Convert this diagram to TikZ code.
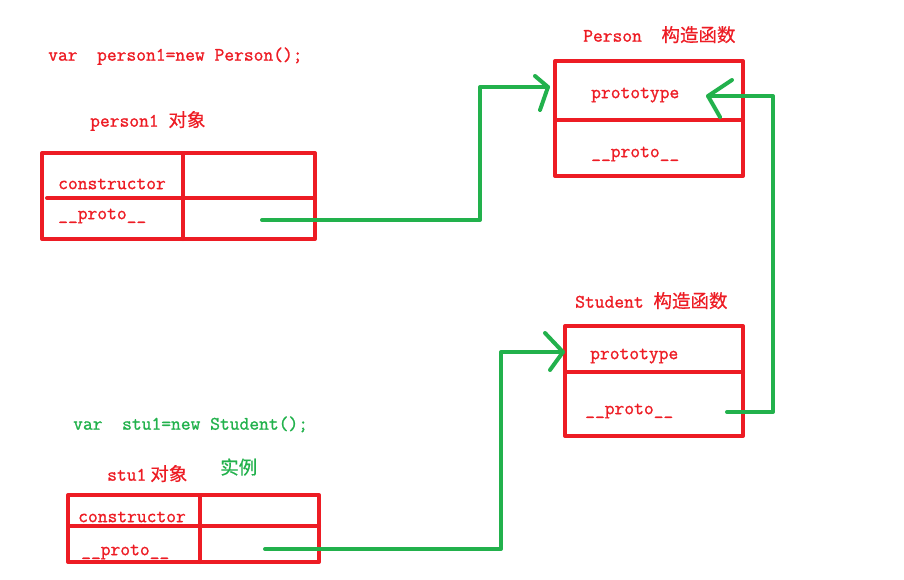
\documentclass[tikz,border=0pt]{standalone}
\usepackage{fontspec}
\newfontfamily\codefont[FakeBold=1.2]{Latin Modern Mono}
\newfontfamily\cjk[FakeBold=0.6]{Noto Sans CJK SC}
\definecolor{pred}{RGB}{237,28,36}
\definecolor{pgreen}{RGB}{34,177,76}
\newcommand{\cd}[1]{{\fontsize{19}{20}\selectfont\codefont #1}}
\newcommand{\zh}[1]{{\fontsize{18.5}{20}\selectfont\cjk #1}}
\begin{document}
\begin{tikzpicture}[x=1pt,y=-1pt,
  boxline/.style={draw=pred,line width=4pt,line cap=round,line join=round},
  link/.style={draw=pgreen,line width=4pt,line cap=round,line join=round},
  lbl/.style={anchor=mid west,inner sep=0pt,text=pred},
  glbl/.style={anchor=mid west,inner sep=0pt,text=pgreen}]
\useasboundingbox (0,0) rectangle (904,579);
% texts
\node[lbl] (code1) at (48,58.5) {\cd{var\ \ person1=new Person();}};
\node[lbl] (obj1) at (90,124.5) {\cd{person1 }\zh{对象}};
\node[lbl] (ptitle) at (583,39.5) {\cd{Person\ \ }\zh{构造函数}};
\node[lbl] (stitle) at (575,305.5) {\cd{Student }\zh{构造函数}};
\node[glbl] (code2) at (73,427.5) {\cd{var\ \ stu1=new Student();}};
\node[lbl] (obj2) at (107,478.5) {\cd{stu1}\hspace{4pt}\zh{对象}};
\node[glbl] (inst) at (220,472) {\zh{实例}};
% person1 box
\draw[boxline] (42,153) rectangle (315,239);
\draw[boxline] (183,153) -- (183,239);
\draw[boxline] (47,198) -- (315,198);
\node[lbl] (c1) at (58,187) {\cd{constructor}};
\node[lbl] (p1) at (58,217) {\cd{\_\_proto\_\_}};
% Person box
\draw[boxline] (555,61) rectangle (743,176);
\draw[boxline] (555,120) -- (743,120);
\node[lbl] (pproto) at (591,96) {\cd{prototype}};
\node[lbl] (pp) at (591,155) {\cd{\_\_proto\_\_}};
% Student box
\draw[boxline] (565,326) rectangle (743,436);
\draw[boxline] (565,372) -- (743,372);
\node[lbl] (sproto) at (590,357) {\cd{prototype}};
\node[lbl] (sp) at (585,412) {\cd{\_\_proto\_\_}};
% stu1 box
\draw[boxline] (68,495) rectangle (319,562);
\draw[boxline] (200,495) -- (200,562);
\draw[boxline] (68,526) -- (319,526);
\node[lbl] (c2) at (78,520) {\cd{constructor}};
\node[lbl] (p2) at (81,553) {\cd{\_\_proto\_\_}};
% connector points
\coordinate (a1s) at (262,220);
\coordinate (a1t) at (548,87);
\coordinate (a2s) at (727,412);
\coordinate (a2t) at (708,96);
\coordinate (a3s) at (265,549);
\coordinate (a3t) at (563,352);
% connectors
\draw[link] (a1s) -- (480,220) -- (480,87) -- (a1t);
\draw[link] (535,76) -- (a1t) -- (540,110);
\draw[link] (a2s) -- (773,412) -- (773,96) -- (a2t);
\draw[link] (732,80) -- (a2t) -- (720,117);
\draw[link] (a3s) -- (501,549) -- (501,352) -- (a3t);
\draw[link] (545,333) -- (a3t) -- (550,370);
\end{tikzpicture}
\end{document}
